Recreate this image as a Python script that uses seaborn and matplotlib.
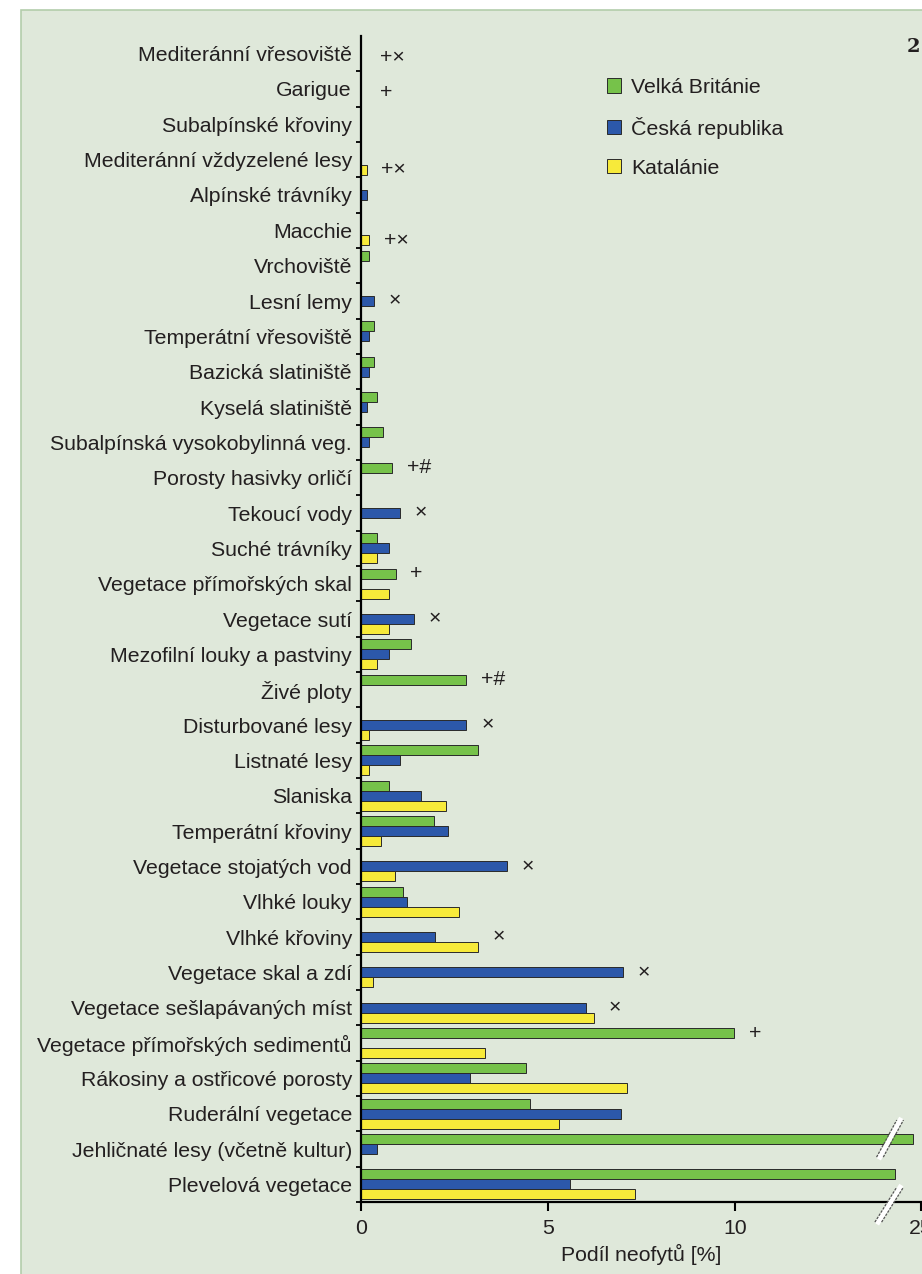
import matplotlib
matplotlib.use('Agg')
import matplotlib.pyplot as plt
from matplotlib.patches import Rectangle
from matplotlib.transforms import blended_transform_factory
import numpy as np
import pandas as pd
import seaborn as sns

habitats = [
    'Mediteránní vřesoviště', 'Garigue', 'Subalpínské křoviny',
    'Mediteránní vždyzelené lesy', 'Alpínské trávníky', 'Macchie',
    'Vrchoviště', 'Lesní lemy', 'Temperátní vřesoviště',
    'Bazická slatiniště', 'Kyselá slatiniště', 'Subalpínská vysokobylinná veg.',
    'Porosty hasivky orličí', 'Tekoucí vody', 'Suché trávníky',
    'Vegetace přímořských skal', 'Vegetace sutí', 'Mezofilní louky a pastviny',
    'Živé ploty', 'Disturbované lesy', 'Listnaté lesy', 'Slaniska',
    'Temperátní křoviny', 'Vegetace stojatých vod', 'Vlhké louky',
    'Vlhké křoviny', 'Vegetace skal a zdí', 'Vegetace sešlapávaných míst',
    'Vegetace přímořských sedimentů', 'Rákosiny a ostřicové porosty',
    'Ruderální vegetace', 'Jehličnaté lesy (včetně kultur)', 'Plevelová vegetace',
]
gb = [0, 0, 0, 0, 0, 0, 0.22, 0, 0.35, 0.35, 0.42, 0.6, 0.84, 0, 0.42, 0.93, 0,
      1.33, 2.82, 0, 3.12, 0.74, 1.94, 0, 1.11, 0, 0, 0, 9.98, 4.41, 4.53, 24.8, 24.3]
cz = [0, 0, 0, 0, 0.15, 0, 0, 0.35, 0.22, 0.22, 0.15, 0.22, 0, 1.04, 0.74, 0, 1.42,
      0.74, 0, 2.82, 1.04, 1.6, 2.32, 3.9, 1.24, 1.99, 7.01, 6.01, 0, 2.92, 6.95, 0.42, 5.6]
cat = [0, 0, 0, 0.15, 0, 0.22, 0, 0, 0, 0, 0, 0, 0, 0, 0.42, 0.74, 0.74, 0.42, 0,
       0.22, 0.22, 2.26, 0.53, 0.92, 2.63, 3.12, 0.33, 6.23, 3.32, 7.12, 5.3, 0, 7.33]
flags = ['+×', '+', '', '+×', '', '+×', '', '×', '', '', '', '', '+#', '×', '',
         '+', '×', '', '+#', '×', '', '', '', '×', '', '×', '×', '×', '+', '', '', '', '']
regions = ['Velká Británie', 'Česká republika', 'Katalánie']
barvy = ['#76c24a', '#2c58aa', '#f7ea3a']

tmava = '#231f20'
pozadi = '#dfe8da'
fs = 15.3

# prerusena osa: 14.15 .. 24.18 se vynecha
lo, hi = 14.15, 24.18

def fwd(v):
    v = np.asarray(v, dtype=float)
    return np.where(v <= lo, v, np.where(v >= hi, v - (hi - lo), lo))

def inv(d):
    d = np.asarray(d, dtype=float)
    return np.where(d <= lo, d, d + (hi - lo))

df = pd.DataFrame({'habitat': habitats, regions[0]: gb, regions[1]: cz, regions[2]: cat})
df_long = df.melt(id_vars='habitat', var_name='region', value_name='podil')

plt.rcParams['font.family'] = ['Liberation Sans', 'DejaVu Sans']
plt.rcParams['text.color'] = tmava

fig = plt.figure(figsize=(9.22, 12.74), dpi=100)
fig.patch.set_facecolor('white')
fig.add_artist(Rectangle((21 / 922, -0.01), 1.0, 1 - 10 / 1274 + 0.01, transform=fig.transFigure,
                         facecolor=pozadi, edgecolor='#b3cdab', lw=1.2, zorder=0))

ax = fig.add_axes([361 / 922, 1 - 1202 / 1274, 1 - 361 / 922, (1202 - 36) / 1274])
ax.set_facecolor('none')

sns.barplot(data=df_long, x='podil', y='habitat', hue='region', orient='h',
            palette=barvy, saturation=1, width=0.85, edgecolor='#2a2a2a', linewidth=0.7,
            errorbar=None, ax=ax)

ax.set_xscale('function', functions=(fwd, inv))
ax.set_xlim(0, float(inv(15.0)))
ax.set_xticks([0, 5, 10, 25])
ax.set_xticklabels(['0', '5', '10', '25'])
ax.xaxis.set_minor_locator(matplotlib.ticker.NullLocator())
ax.set_ylim(32.5, -0.5)

ax.set_xlabel('Podíl neofytů [%]', fontsize=fs, color=tmava, labelpad=4)
ax.set_ylabel('')

for s in ['top', 'right']:
    ax.spines[s].set_visible(False)
for s in ['left', 'bottom']:
    ax.spines[s].set_linewidth(1.6)
    ax.spines[s].set_color('black')

ax.tick_params(axis='x', direction='out', length=6.5, width=1.5, labelsize=fs,
               labelcolor=tmava, pad=6)
ax.tick_params(axis='y', which='major', length=0, labelsize=fs, labelcolor=tmava, pad=6.5)
ax.set_yticks(np.arange(0.5, 33, 1), minor=True)
ax.tick_params(axis='y', which='minor', direction='out', length=3.5, width=1.3)

# znacky u stanovist
vals = np.array([gb, cz, cat]).T
offs = [-0.283, 0, 0.283]
for i, f in enumerate(flags):
    if not f:
        continue
    nz = np.nonzero(vals[i])[0]
    yy = i + (offs[nz[0]] if len(nz) else 0.1)
    xx = max(vals[i].max(), 0.13)
    ax.annotate(f, xy=(xx, yy), xytext=(10.5, 0), textcoords='offset points',
                ha='left', va='center', fontsize=fs, color=tmava)

# znacky preruseni osy
tr = blended_transform_factory(ax.transAxes, ax.transData)
for (x0, y0, x1, y1) in [(0.925, 31.23, 0.961, 30.18), (0.922, 33.07, 0.961, 32.08)]:
    ax.plot([x0, x1], [y0, y1], transform=tr, color='white', lw=3.5, clip_on=False, zorder=5)
    for d in (-0.006, 0.006):
        ax.plot([x0 + d, x1 + d], [y0, y1], transform=tr, color='#555555', lw=0.9,
                ls=(0, (2, 1)), clip_on=False, zorder=6)

handles, labels = ax.get_legend_handles_labels()
ax.legend(handles, labels, loc='upper left', bbox_to_anchor=(0.4385, 0.964),
          frameon=False, fontsize=fs, handlelength=0.65, handleheight=0.65,
          handletextpad=0.47, labelspacing=0.93, borderaxespad=0, borderpad=0)

fig.text(913 / 922, 1 - 47 / 1274, '2', ha='center', va='center', fontfamily='DejaVu Serif',
         fontweight='bold', fontsize=14, color=tmava)

fig.savefig('out.png', dpi=100)
